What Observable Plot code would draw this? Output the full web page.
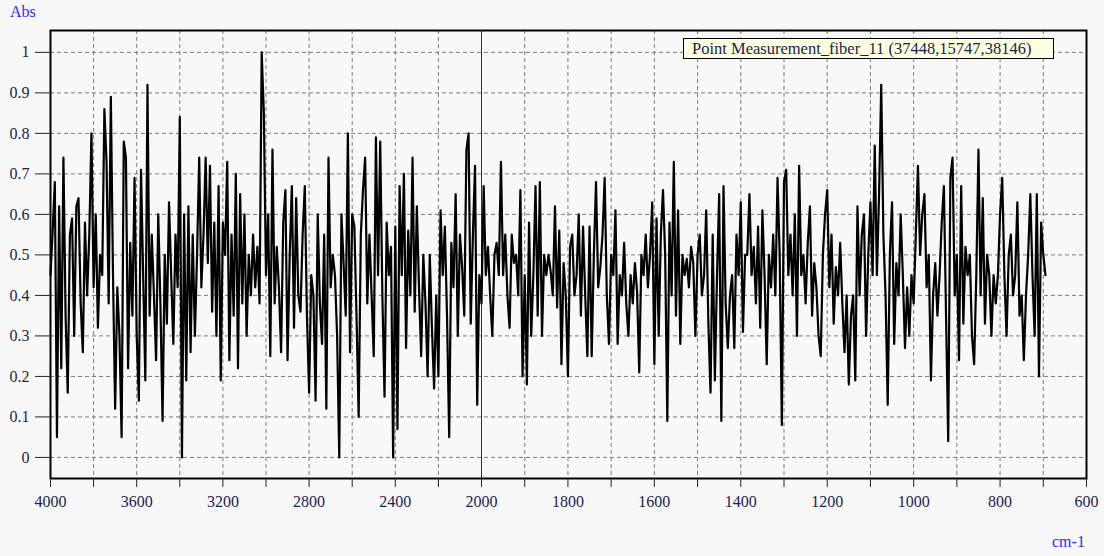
<!DOCTYPE html>
<html>
<head>
<meta charset="utf-8">
<script src="https://cdn.jsdelivr.net/npm/d3@7"></script>
<script src="https://cdn.jsdelivr.net/npm/@observablehq/plot@0.6"></script>
<style>
  html, body { margin: 0; padding: 0; background: #f8f8f8; }
  #wrap { position: relative; width: 1104px; height: 556px; overflow: hidden; font-family: "Liberation Serif", "DejaVu Serif", serif; }
  .lbl { position: absolute; color: #2a2aff; font-size: 16px; line-height: 16px; }
  #legend { position: absolute; left: 683px; top: 38px; width: 371px; height: 21px; background: #ffffe1; border: 1px solid #000; color: #1c1c50; font-size: 16.5px; line-height: 19px; padding-left: 8px; box-sizing: border-box; white-space: nowrap; }
</style>
</head>
<body>
<div id="wrap">
  <div id="chart"></div>
  <div class="lbl" style="left:10px;top:4px;">Abs</div>
  <div class="lbl" style="left:1052px;top:534px;">cm-1</div>
  <div id="legend">Point Measurement_fiber_11 (37448,15747,38146)</div>
</div>
<script>
// Absorbance, 4000 -> 2000 cm-1 every 10 cm-1
const highStart = 4000, highStep = 10;
const absHigh = [
  0.45,0.56,0.68,0.05,0.62,0.22,0.74,0.35,0.16,0.55,0.59,0.30,0.62,0.64,0.38,0.26,0.58,0.40,0.55,0.80,
  0.42,0.60,0.32,0.50,0.45,0.86,0.73,0.38,0.89,0.45,0.12,0.42,0.30,0.05,0.78,0.74,0.22,0.53,0.35,0.69,
  0.30,0.14,0.71,0.45,0.19,0.92,0.35,0.55,0.40,0.24,0.60,0.38,0.09,0.50,0.33,0.63,0.45,0.28,0.55,0.42,
  0.84,0.00,0.60,0.19,0.62,0.26,0.55,0.30,0.50,0.74,0.42,0.55,0.74,0.48,0.72,0.36,0.58,0.30,0.67,0.19,
  0.58,0.50,0.73,0.24,0.55,0.35,0.70,0.22,0.65,0.38,0.60,0.30,0.50,0.40,0.55,0.42,0.52,0.38,1.00,0.85,
  0.45,0.60,0.25,0.76,0.38,0.52,0.42,0.26,0.58,0.66,0.24,0.50,0.67,0.32,0.64,0.40,0.36,0.55,0.67,0.35,
  0.16,0.45,0.40,0.14,0.60,0.38,0.28,0.55,0.12,0.74,0.42,0.50,0.45,0.30,0.00,0.60,0.48,0.35,0.80,0.26,
  0.60,0.57,0.35,0.10,0.55,0.66,0.74,0.38,0.55,0.40,0.25,0.79,0.45,0.78,0.40,0.15,0.58,0.45,0.52,0.00,
  0.57,0.07,0.67,0.45,0.70,0.27,0.56,0.40,0.74,0.36,0.62,0.42,0.25,0.50,0.38,0.20,0.50,0.32,0.17,0.40,
  0.20,0.61,0.45,0.57,0.35,0.05,0.53,0.42,0.65,0.30,0.55,0.47,0.35,0.76,0.80,0.33,0.55,0.72,0.13,0.45,
  0.38
];
// Absorbance, 1995 -> 695 cm-1 every 5 cm-1
const lowStart = 1995, lowStep = 5;
const absLow = [
  0.67,0.45,0.52,0.40,0.30,0.50,0.53,0.45,0.73,0.45,0.55,0.40,0.32,0.55,0.48,0.50,0.40,0.66,0.20,0.45,
  0.18,0.58,0.30,0.45,0.67,0.35,0.68,0.30,0.50,0.45,0.50,0.46,0.40,0.62,0.37,0.56,0.23,0.48,0.40,0.20,
  0.52,0.55,0.40,0.45,0.60,0.35,0.57,0.40,0.25,0.57,0.25,0.50,0.68,0.42,0.47,0.55,0.69,0.40,0.28,0.50,
  0.45,0.61,0.28,0.45,0.40,0.53,0.38,0.30,0.45,0.38,0.48,0.41,0.21,0.50,0.45,0.55,0.42,0.50,0.63,0.23,
  0.59,0.30,0.55,0.66,0.50,0.09,0.58,0.40,0.73,0.35,0.61,0.28,0.50,0.45,0.49,0.42,0.52,0.48,0.30,0.50,
  0.55,0.40,0.45,0.61,0.33,0.16,0.55,0.19,0.45,0.65,0.09,0.67,0.38,0.27,0.40,0.45,0.27,0.55,0.45,0.63,
  0.31,0.50,0.50,0.65,0.45,0.52,0.38,0.57,0.32,0.61,0.45,0.23,0.50,0.42,0.55,0.40,0.69,0.50,0.08,0.68,
  0.71,0.45,0.55,0.40,0.60,0.30,0.72,0.45,0.50,0.38,0.53,0.62,0.35,0.48,0.42,0.30,0.25,0.50,0.60,0.66,
  0.42,0.55,0.33,0.47,0.40,0.53,0.38,0.26,0.40,0.18,0.35,0.40,0.19,0.62,0.40,0.55,0.60,0.30,0.50,0.63,
  0.45,0.77,0.45,0.65,0.92,0.55,0.40,0.13,0.50,0.63,0.28,0.48,0.40,0.60,0.45,0.27,0.42,0.30,0.45,0.38,
  0.55,0.72,0.50,0.60,0.65,0.42,0.50,0.19,0.40,0.48,0.35,0.45,0.58,0.67,0.35,0.04,0.69,0.74,0.40,0.50,
  0.24,0.67,0.33,0.52,0.45,0.50,0.30,0.23,0.45,0.76,0.40,0.64,0.33,0.50,0.45,0.30,0.45,0.38,0.45,0.60,
  0.69,0.45,0.30,0.50,0.55,0.40,0.45,0.63,0.35,0.40,0.24,0.40,0.50,0.65,0.45,0.30,0.65,0.20,0.58,0.50,
  0.45
];

const xLabelTicks = [4000,3600,3200,2800,2400,2000,1800,1600,1400,1200,1000,800,600];
const xMinorTicks = [3800,3400,3000,2600,2200,1900,1700,1500,1300,1100,900,700];
const yTicks = [0,0.1,0.2,0.3,0.4,0.5,0.6,0.7,0.8,0.9,1];
const xBreak = [2000];

const data = [
  ...absHigh.map((a, i) => ({w: highStart - highStep * i, a})),
  ...absLow.map((a, i) => ({w: lowStart - lowStep * i, a}))
];
const allX = [...xLabelTicks, ...xMinorTicks];

const chart = Plot.plot({
  width: 1104,
  height: 556,
  marginLeft: 50,
  marginRight: 18,
  marginTop: 30,
  marginBottom: 78,
  style: {background: "transparent", fontFamily: "'Liberation Serif', serif", fontSize: "16px", color: "#1c1c50", overflow: "visible"},
  x: {type: "linear", domain: [4000, 2000, 600], range: [50, 481, 1086], label: null},
  y: {domain: [-0.052, 1.054], label: null},
  marks: [
    Plot.gridX(allX, {stroke: "#7a7a7a", strokeOpacity: 1, strokeDasharray: "4,3"}),
    Plot.gridY(yTicks, {stroke: "#7a7a7a", strokeOpacity: 1, strokeDasharray: "4,3"}),
    Plot.ruleX(xBreak, {stroke: "#333", strokeWidth: 1}),
    Plot.line(data, {x: "w", y: "a", stroke: "black", strokeWidth: 2.2}),
    Plot.frame({stroke: "black", strokeWidth: 2}),
    Plot.axisX(xMinorTicks, {tickSize: 9, tickFormat: () => "", stroke: "#222"}),
    Plot.axisX(xLabelTicks, {tickSize: 9, tickPadding: 8, fontSize: 16, tickFormat: d => String(d), stroke: "#222", fill: "#1c1c50"}),
    Plot.axisY(yTicks, {tickSize: 15, tickPadding: 6, fontSize: 16, tickFormat: d => String(d), stroke: "#222", fill: "#1c1c50"})
  ]
});
document.getElementById("chart").appendChild(chart);
</script>
</body>
</html>
